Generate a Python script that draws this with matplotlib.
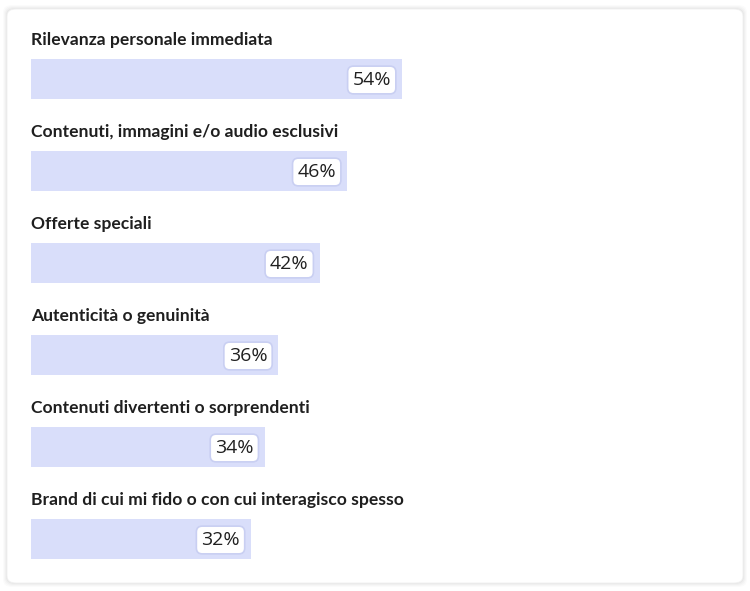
import matplotlib.pyplot as plt
from matplotlib.patches import FancyBboxPatch

# data
categories = [
    'Rilevanza personale immediata',
    'Contenuti, immagini e/o audio esclusivi',
    'Offerte speciali',
    'Autenticità o genuinità',
    'Contenuti divertenti o sorprendenti',
    'Brand di cui mi fido o con cui interagisco spesso',
]
values = [54, 46, 42, 36, 34, 32]

W, H = 750, 591
fig = plt.figure(figsize=(W / 100, H / 100), dpi=100)
fig.patch.set_facecolor('white')

# card with a soft shadow
for off, a in [(4, 0.015), (3, 0.02), (2, 0.025), (1, 0.03)]:
    fig.patches.append(FancyBboxPatch((7 / W - off / W, 8 / H - off / H), 736 / W + 2 * off / W, 574 / H + 2 * off / H,
                                      boxstyle='round,pad=0,rounding_size=0.012', transform=fig.transFigure,
                                      fc='#000000', ec='none', alpha=a, zorder=0))
fig.patches.append(FancyBboxPatch((7 / W, 8 / H), 736 / W, 574 / H,
                                  boxstyle='round,pad=0,rounding_size=0.012', transform=fig.transFigure,
                                  fc='white', ec='#f0f0f0', lw=0.6, zorder=1))

# axes: percent horizontally, pixels vertically
ax = fig.add_axes([31 / W, 0, 687 / W, 1])
ax.set_zorder(5)
ax.set_xlim(0, 100)
ax.set_ylim(H, 0)
ax.axis('off')
ax.patch.set_alpha(0)

step = 92
bar_h = 40
centers = [79 + step * i for i in range(len(values))]

ax.barh(centers, values, height=bar_h, color='#d9defa', zorder=2)

for y, cat, v in zip(centers, categories, values):
    ax.text(0, y - 39.5, cat, fontsize=12.6, fontweight='bold', family=['Lato', 'DejaVu Sans'],
            color='#1f1f1f', va='center', ha='left', zorder=3)
    ax.text(v - 1.6, y + 1, f'{v}%', fontsize=14, fontweight=500, family=['Open Sans', 'DejaVu Sans'],
            color='#202020', va='center', ha='right', zorder=4,
            bbox=dict(boxstyle='round,pad=0.25,rounding_size=0.3', fc='white', ec='#c9cff2', lw=1.2))

fig.savefig('out.png', dpi=100, facecolor='white')
